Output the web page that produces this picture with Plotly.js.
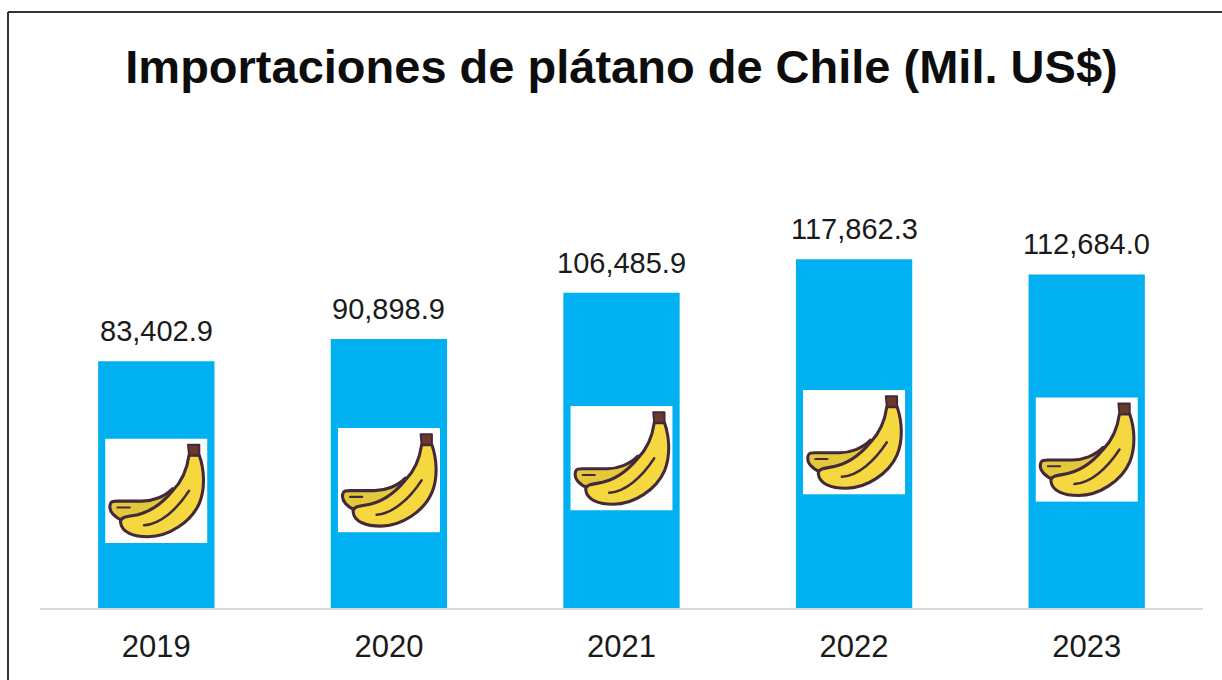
<!DOCTYPE html>
<html>
<head>
<meta charset="utf-8">
<script src="https://cdn.plot.ly/plotly-3.0.1.min.js"></script>
<style>html,body{margin:0;padding:0;background:#fff;overflow:hidden}</style>
</head>
<body>
<div id="chart" style="width:1222px;height:680px"></div>
<script>
const years = ['2019', '2020', '2021', '2022', '2023'];
const values = [83402.9, 90898.9, 106485.9, 117862.3, 112684.0];
const labels = ['83,402.9', '90,898.9', '106,485.9', '117,862.3', '112,684.0'];
const chartTitle = 'Importaciones de plátano de Chile (Mil. US$)';

const bananaSvg = `<svg xmlns="http://www.w3.org/2000/svg" viewBox="0 0 100 100" width="300" height="300">
<rect width="100" height="100" fill="#ffffff"/>
<path d="M5 63 C6 60 8 60 12 60 L36 60 C46 60 58 56 66 48 L72 60 C56 76 36 82 18 79 C10 76 3 70 5 63 Z" fill="#e3c83c" stroke="#43293a" stroke-width="3" stroke-linejoin="round"/>
<path d="M12 66 L24 66" stroke="#43293a" stroke-width="2" fill="none" stroke-linecap="round"/>
<path d="M82 16 L92 16 C97 30 98 48 92 62 C84 80 62 94 42 94 C28 94 16 90 15 80 C15 76 19 75 26 74 C42 72 56 62 66 50 C74 42 80 30 82 16 Z" fill="#f5d73f" stroke="#43293a" stroke-width="3" stroke-linejoin="round"/>
<path d="M38 83 C54 82 70 68 82 50" stroke="#43293a" stroke-width="2.4" fill="none" stroke-linecap="round"/>
<path d="M82 16 L81 6 L92 6 L92 16 Z" fill="#6b3a2a" stroke="#43293a" stroke-width="2" stroke-linejoin="round"/>
</svg>`;
const bananaUri = 'data:image/svg+xml;base64,' + btoa(bananaSvg);

const frame = {color: '#333333', width: 2};
const pxX = v => (v - 40) / 1163;
const pxY = v => (608 - v) / 444;

Plotly.newPlot('chart', [{
  type: 'bar',
  x: years,
  y: values,
  width: 0.5,
  marker: {color: '#00b0f0', line: {width: 0}},
  hoverinfo: 'x+y'
}], {
  width: 1222,
  height: 680,
  margin: {l: 40, r: 19, t: 164, b: 72, pad: 0},
  paper_bgcolor: '#ffffff',
  plot_bgcolor: '#ffffff',
  showlegend: false,
  font: {family: '"Liberation Sans", Arial, sans-serif', color: '#1a1a1a'},
  title: {
    text: '<b>' + chartTitle + '</b>',
    font: {family: '"Liberation Sans", Arial, sans-serif', size: 47, color: '#0d0d0d'},
    x: 0.5, xref: 'paper', xanchor: 'center',
    y: 0.902, yref: 'container', yanchor: 'middle'
  },
  xaxis: {
    type: 'category',
    categoryorder: 'array',
    categoryarray: years,
    range: [-0.5, 4.5],
    showgrid: false,
    showline: true,
    linecolor: '#d9d9d9',
    linewidth: 2,
    ticks: '',
    ticklabelstandoff: 10,
    tickfont: {size: 31, color: '#1a1a1a'},
    zeroline: false,
    fixedrange: true
  },
  yaxis: {
    range: [0, 150000],
    visible: false,
    fixedrange: true
  },
  annotations: years.map((y, i) => ({
    x: i, y: values[i], xref: 'x', yref: 'y',
    text: labels[i], showarrow: false,
    yshift: 30, yanchor: 'middle', xanchor: 'center',
    font: {size: 29, color: '#1a1a1a'}
  })),
  images: years.map((y, i) => ({
    source: bananaUri,
    xref: 'x', yref: 'y',
    x: i, y: values[i] * 0.475,
    sizex: 0.44, sizey: 35300,
    xanchor: 'center', yanchor: 'middle',
    sizing: 'stretch',
    layer: 'above'
  })),
  shapes: [
    {type: 'line', xref: 'paper', yref: 'paper', x0: pxX(8), x1: pxX(8), y0: pxY(12), y1: pxY(680), line: frame},
    {type: 'line', xref: 'paper', yref: 'paper', x0: pxX(8), x1: pxX(1222), y0: pxY(12), y1: pxY(12), line: frame}
  ]
}, {displayModeBar: false, responsive: false});
</script>
</body>
</html>
